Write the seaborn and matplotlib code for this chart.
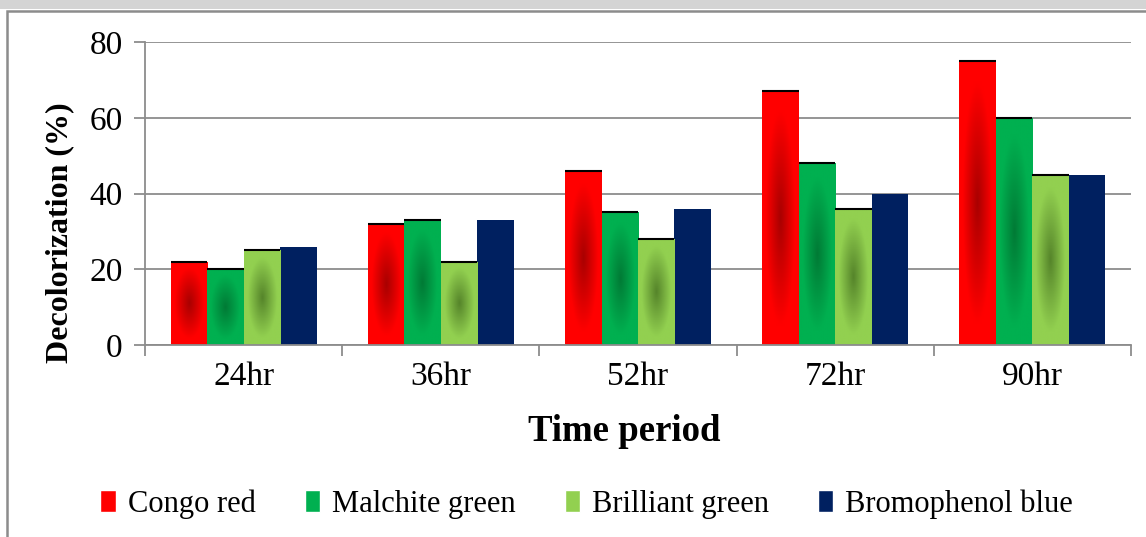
import numpy as np
import pandas as pd
import matplotlib
matplotlib.use("Agg")
import matplotlib.pyplot as plt
import seaborn as sns
from matplotlib.patches import Patch, Rectangle
from matplotlib.colors import to_rgb

# data
time_periods = ["24hr", "36hr", "52hr", "72hr", "90hr"]
dyes = ["Congo red", "Malchite green", "Brilliant green", "Bromophenol blue"]
congo_red = [22, 32, 46, 67, 75]
malachite_green = [20, 33, 35, 48, 60]
brilliant_green = [25, 22, 28, 36, 45]
bromophenol_blue = [26, 33, 36, 40, 45]

df = pd.DataFrame({
    "time": time_periods * 4,
    "dye": sum([[d] * 5 for d in dyes], []),
    "value": congo_red + malachite_green + brilliant_green + bromophenol_blue,
})

edge_cols = ["#ff0000", "#00b050", "#92d050", "#002060"]
centre_cols = ["#a80000", "#007a35", "#55842a", "#002060"]

sns.set_theme(style="white")
plt.rcParams["font.family"] = ["Liberation Serif", "DejaVu Serif"]
plt.rcParams["text.color"] = "black"
plt.rcParams["axes.labelcolor"] = "black"
plt.rcParams["xtick.labelcolor"] = "black"
plt.rcParams["ytick.labelcolor"] = "black"

fig = plt.figure(figsize=(11.46, 5.37), dpi=100)
ax = fig.add_axes([145 / 1146, 1 - 345 / 537, (1131 - 145) / 1146, (345 - 42) / 537])

sns.barplot(data=df, x="time", y="value", hue="dye", hue_order=dyes,
            order=time_periods, palette=edge_cols, width=0.74,
            saturation=1, legend=False, ax=ax, linewidth=0)

# radial shading inside the bars, like the office-style gradient fill
yy, xx = np.mgrid[0:60, 0:60]
for i, dye in enumerate(dyes[:3]):
    c_edge = np.array(to_rgb(edge_cols[i]))
    c_mid = np.array(to_rgb(centre_cols[i]))
    for p in ax.containers[i].patches:
        x0, w, h = p.get_x(), p.get_width(), p.get_height()
        r = np.sqrt(((xx - 29.5) / 30) ** 2 + ((yy - 29.5) / 30) ** 2 * 0.9)
        t = np.clip(r * 1.25, 0, 1)[..., None]
        img = c_mid * (1 - t) + c_edge * t
        im = ax.imshow(img, extent=(x0, x0 + w, 0, h), aspect="auto",
                       origin="lower", zorder=p.get_zorder() + 0.1)
        im.set_clip_path(p)
        ax.hlines(h, x0, x0 + w, color="black", lw=1.5, zorder=p.get_zorder() + 0.2)

ax.set_xlim(-0.5, 4.5)
ax.set_ylim(0, 80)
ax.set_yticks([0, 20, 40, 60, 80])
ax.yaxis.grid(True, color="#8c8c8c", lw=1.3)
ax.set_axisbelow(True)
for s in ["top", "right"]:
    ax.spines[s].set_visible(False)
for s in ["left", "bottom"]:
    ax.spines[s].set_color("#8c8c8c")
    ax.spines[s].set_linewidth(1.3)

ax.tick_params(axis="y", left=True, length=8, width=1.3, color="#8c8c8c",
               labelsize=24, pad=8)
ax.set_xticks(np.arange(-0.5, 5, 1), minor=True)
ax.tick_params(axis="x", which="major", length=0, labelsize=24, pad=12)
ax.tick_params(axis="x", which="minor", bottom=True, length=8, width=1.3, color="#8c8c8c")

ax.set_xlabel("Time period", fontsize=26.5, fontweight="bold")
ax.set_ylabel("Decolorization (%)", fontsize=23, fontweight="bold")
ax.xaxis.set_label_coords(0.486, -0.228)
ax.yaxis.set_label_coords(-0.072, 0.37)

handles = [Patch(facecolor=c) for c in edge_cols]
fig.legend(handles, dyes, loc="center", bbox_to_anchor=(0.512, 1 - 504 / 537),
           ncol=4, frameon=False, fontsize=22, handlelength=0.5,
           handleheight=0.7, handletextpad=0.4, columnspacing=1.6)

# page header strip and chart border
fig.patches.append(Rectangle((0, 1 - 9 / 537), 1, 9 / 537, transform=fig.transFigure,
                             facecolor="#d4d4d4", edgecolor="none"))
fig.patches.append(Rectangle((7 / 1146, -0.05), 1.1, 1.05 - 11 / 537, transform=fig.transFigure,
                             facecolor="none", edgecolor="#8c8c8c", lw=1.8))

fig.savefig("out.png", dpi=100)
